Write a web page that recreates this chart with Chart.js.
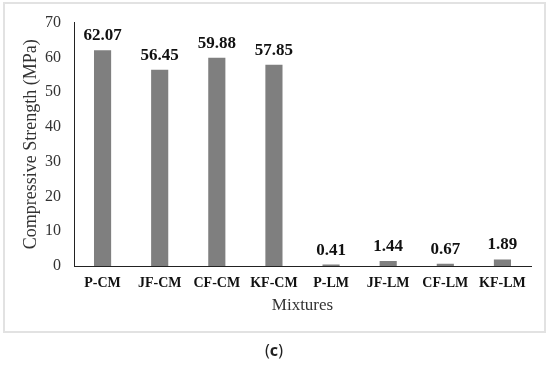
<!DOCTYPE html>
<html>
<head>
<meta charset="utf-8">
<script src="https://cdn.jsdelivr.net/npm/chart.js@4/dist/chart.umd.min.js"></script>
<style>
  html, body { margin: 0; padding: 0; background: #fff; }
  #wrap { position: relative; width: 550px; height: 366px; }
</style>
</head>
<body>
<div id="wrap"><canvas id="c" width="550" height="366"></canvas></div>
<script>
const categories = ["P-CM", "JF-CM", "CF-CM", "KF-CM", "P-LM", "JF-LM", "CF-LM", "KF-LM"];
const strengthValues = [62.07, 56.45, 59.88, 57.85, 0.41, 1.44, 0.67, 1.89];
const yTicks = [0, 10, 20, 30, 40, 50, 60, 70];

const SERIF = '"Liberation Serif", "Times New Roman", serif';

const framePlugin = {
  id: 'frame',
  beforeDraw(chart) {
    const ctx = chart.ctx;
    ctx.save();
    ctx.fillStyle = '#fff';
    ctx.fillRect(0, 0, chart.width, chart.height);
    ctx.strokeStyle = '#e2e2e2';
    ctx.lineWidth = 2;
    ctx.strokeRect(4, 3, 541, 329);
    ctx.restore();
  },
  afterDraw(chart) {
    const ctx = chart.ctx;
    ctx.save();
    ctx.fillStyle = '#222';
    ctx.textBaseline = 'middle';
    ctx.textAlign = 'left';
    const f1 = "16px 'Noto Sans', sans-serif";
    const f2 = "bold 16px 'Noto Sans', sans-serif";
    ctx.font = f1; const w1 = ctx.measureText('(').width;
    ctx.font = f2; const w2 = ctx.measureText('c').width;
    ctx.font = f1; const w3 = ctx.measureText(')').width;
    let x = 274 - (w1 + w2 + w3) / 2;
    const y = 351;
    ctx.font = f1; ctx.fillText('(', x, y); x += w1;
    ctx.font = f2; ctx.fillText('c', x, y); x += w2;
    ctx.font = f1; ctx.fillText(')', x, y);
    ctx.restore();
  }
};

const labelPlugin = {
  id: 'barLabels',
  afterDatasetsDraw(chart) {
    const ctx = chart.ctx;
    const meta = chart.getDatasetMeta(0);
    ctx.save();
    ctx.font = "bold 17px " + SERIF;
    ctx.fillStyle = '#111';
    ctx.textAlign = 'center';
    ctx.textBaseline = 'alphabetic';
    meta.data.forEach((bar, i) => {
      ctx.fillText(strengthValues[i].toFixed(2), bar.x, bar.y - 10);
    });
    ctx.restore();
  }
};

new Chart(document.getElementById('c'), {
  type: 'bar',
  data: {
    labels: categories,
    datasets: [{
      data: strengthValues,
      backgroundColor: '#7f7f7f',
      borderWidth: 0,
      barPercentage: 0.3,
      categoryPercentage: 1.0
    }]
  },
  options: {
    responsive: false,
    animation: false,
    devicePixelRatio: 1,
    layout: { padding: { left: 0, top: 20, right: 19, bottom: 0 } },
    plugins: { legend: { display: false }, tooltip: { enabled: false } },
    scales: {
      x: {
        grid: { display: false, drawTicks: false },
        border: { display: true, color: '#222', width: 1 },
        ticks: { color: '#111', padding: 9, font: { family: SERIF, size: 14, weight: 'bold' } },
        title: {
          display: true, text: 'Mixtures', color: '#333',
          font: { family: SERIF, size: 17 }, padding: { top: 0, bottom: 50 }
        },
        afterFit(s) { s.height = 100; }
      },
      y: {
        min: 0, max: 70,
        grid: { display: false, drawTicks: false },
        border: { display: true, color: '#222', width: 1 },
        afterBuildTicks(s) { s.ticks = yTicks.map(v => ({ value: v })); },
        ticks: { color: '#333', padding: 13, font: { family: SERIF, size: 16 } },
        title: {
          display: true, text: 'Compressive Strength (MPa)', color: '#333',
          font: { family: SERIF, size: 18 }, padding: { top: 20, bottom: 0 }
        },
        afterFit(s) { s.width = 74; }
      }
    }
  },
  plugins: [framePlugin, labelPlugin]
});
</script>
</body>
</html>
